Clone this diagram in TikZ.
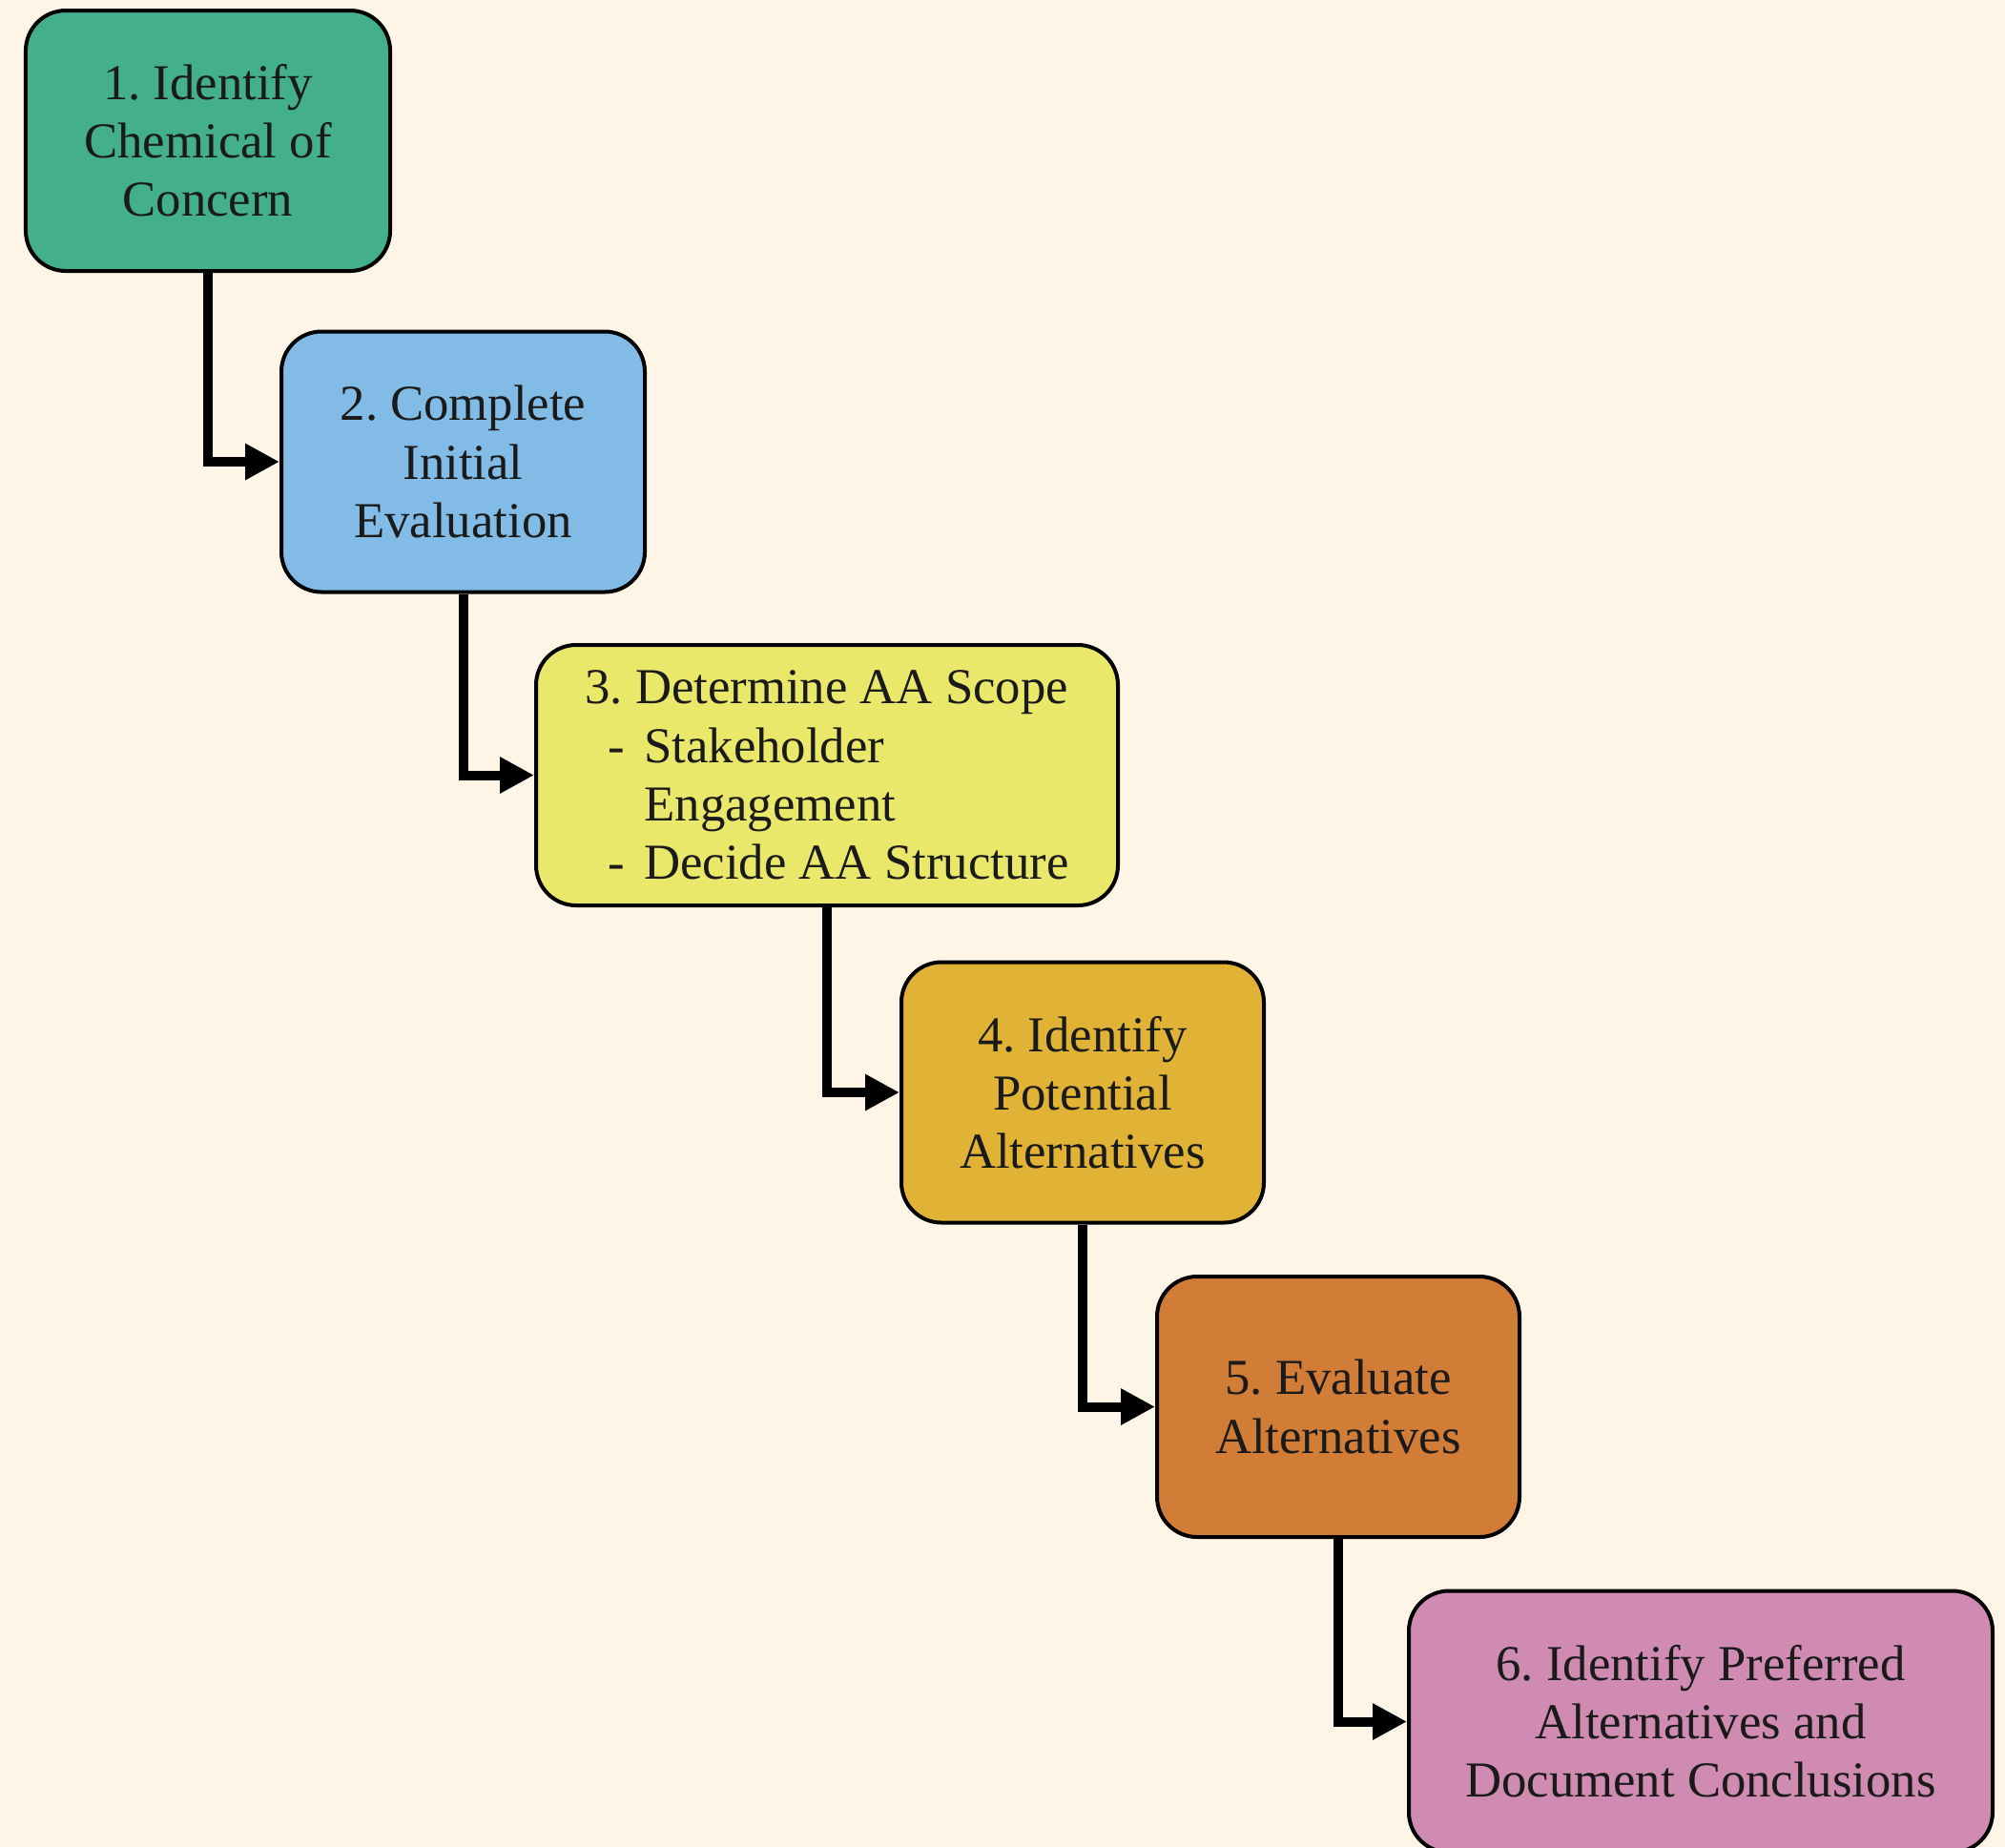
\documentclass[tikz,border=0pt]{standalone}
\usepackage{fontspec}
\setmainfont{Liberation Serif}
\usetikzlibrary{arrows.meta}
\frenchspacing
\definecolor{bgc}{HTML}{FEF5E6}
\definecolor{cgreen}{HTML}{43AF8B}
\definecolor{cblue}{HTML}{82BCE6}
\definecolor{cyellow}{HTML}{E9E86A}
\definecolor{cgold}{HTML}{E0B236}
\definecolor{corange}{HTML}{D17C37}
\definecolor{cpink}{HTML}{D08BB3}
\definecolor{txt}{HTML}{1A1A1A}
\begin{document}
\begin{tikzpicture}[
  stepbox/.style={draw=black, line width=0.04cm, rounded corners=0.42cm,
    minimum height=2.73cm, align=center, text=txt,
    font=\fontsize{15}{17.4}\selectfont\frenchspacing, inner sep=0pt},
  conn/.style={line width=0.1cm, line join=miter,
    -{Triangle[length=0.36cm,width=0.36cm]}}
]
\useasboundingbox (0,0) rectangle (21.02,-19.36);
\clip (0,0) rectangle (21.02,-19.36);
\fill[bgc] (0,0) rectangle (21.02,-19.36);

\node[stepbox, fill=cgreen, minimum width=3.82cm] (b1) at (2.18,-1.475)
  {1. Identify\\Chemical of\\Concern};
\node[stepbox, fill=cblue, minimum width=3.81cm] (b2) at (4.855,-4.84)
  {2. Complete\\Initial\\Evaluation};
\node[stepbox, fill=cyellow, minimum width=6.10cm, align=left] (b3) at (8.67,-8.125)
  {3. Determine AA Scope\\
   \hspace*{0.24cm}\makebox[0.38cm][l]{-}Stakeholder\\
   \hspace*{0.62cm}Engagement\\
   \hspace*{0.24cm}\makebox[0.38cm][l]{-}Decide AA Structure};
\node[stepbox, fill=cgold, minimum width=3.80cm] (b4) at (11.35,-11.45)
  {4. Identify\\Potential\\Alternatives};
\node[stepbox, fill=corange, minimum width=3.80cm] (b5) at (14.03,-14.745)
  {5. Evaluate\\Alternatives};
\node[stepbox, fill=cpink, minimum width=6.12cm, minimum height=2.74cm] (b6) at (17.83,-18.045)
  {6. Identify Preferred\\Alternatives and\\Document Conclusions};

\draw[conn] (b1.south) |- (b2.west);
\draw[conn] (b2.south) |- (b3.west);
\draw[conn] (b3.south) |- (b4.west);
\draw[conn] (b4.south) |- (b5.west);
\draw[conn] (b5.south) |- (b6.west);
\end{tikzpicture}
\end{document}
